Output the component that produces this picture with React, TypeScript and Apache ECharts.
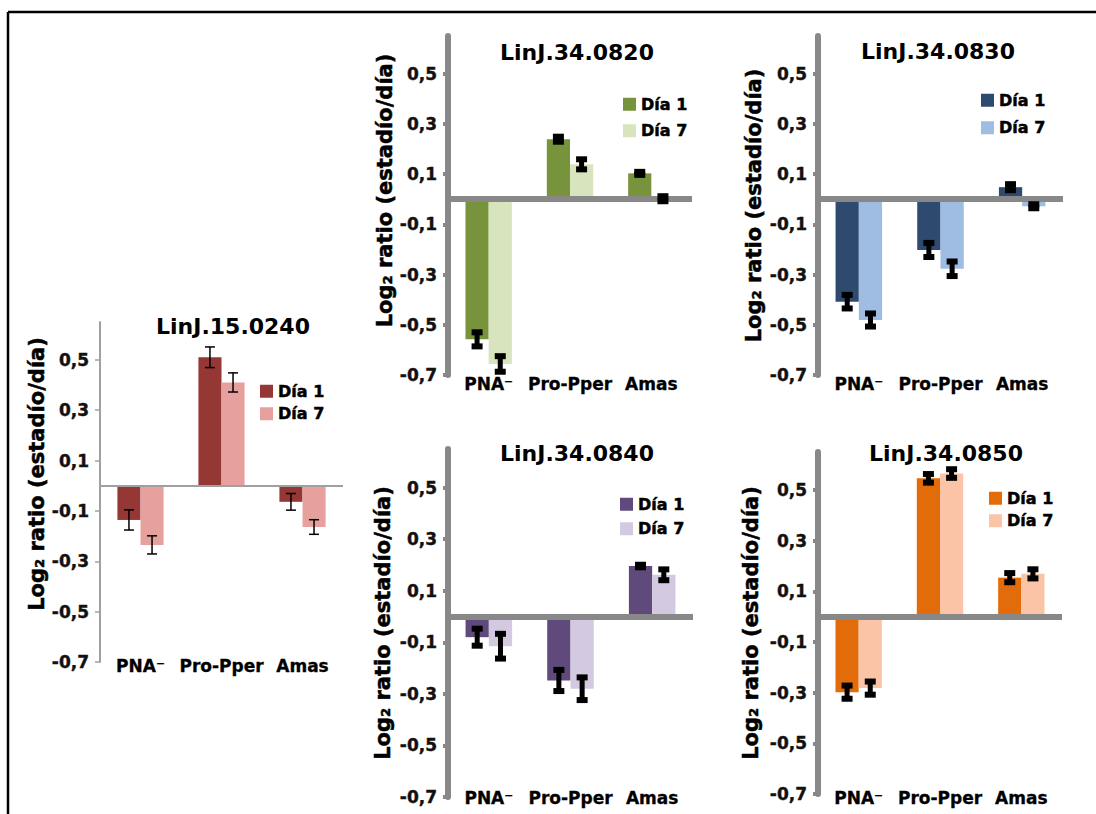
import React, { useEffect, useRef } from 'react';
import * as echarts from 'echarts';

const categories = ['PNA⁻', 'Pro-Pper', 'Amas'];
const tickValues = [-0.7, -0.5, -0.3, -0.1, 0.1, 0.3, 0.5];
const seriesNames = ['Día 1', 'Día 7'];
const titles = ['LinJ.15.0240', 'LinJ.34.0820', 'LinJ.34.0830', 'LinJ.34.0840', 'LinJ.34.0850'];
const yAxisName = 'Log₂ ratio (estadío/día)';

const p1Dia1 = [-0.136, 0.51, -0.064];
const p1Dia7 = [-0.235, 0.41, -0.164];
const p1Err1 = [0.04, 0.041, 0.033];
const p1Err7 = [0.036, 0.038, 0.029];

const p2Dia1 = [-0.558, 0.239, 0.103];
const p2Dia7 = [-0.656, 0.139, 0.002];
const p2Err1 = [0.028, 0.01, 0.006];
const p2Err7 = [0.031, 0.02, 0.01];

const p3Dia1 = [-0.408, -0.202, 0.048];
const p3Dia7 = [-0.481, -0.277, -0.028];
const p3Err1 = [0.027, 0.028, 0.012];
const p3Err7 = [0.026, 0.029, 0.008];

const p4Dia1 = [-0.08, -0.248, 0.196];
const p4Dia7 = [-0.115, -0.28, 0.162];
const p4Err1 = [0.033, 0.041, 0.005];
const p4Err7 = [0.048, 0.044, 0.021];

const p5Dia1 = [-0.298, 0.546, 0.154];
const p5Dia7 = [-0.282, 0.565, 0.169];
const p5Err1 = [0.026, 0.017, 0.018];
const p5Err7 = [0.026, 0.017, 0.018];

const FONT = "'DejaVu Sans', Verdana, sans-serif";
const CAT_GAP = 0.43;
const HEAVY = { textBorderColor: '#000', textBorderWidth: 0.5 };

const panels = [
  { d1: p1Dia1, d7: p1Dia7, e1: p1Err1, e7: p1Err7, colors: ['#953735', '#E6A19F'],
    grid: { left: 100, top: 322, width: 243, height: 340 }, thick: false, titlePos: [233, 326],
    legend: [260, 383, 6], labelMargin: -5, nameGap: 53, namePad: 36 },
  { d1: p2Dia1, d7: p2Dia7, e1: p2Err1, e7: p2Err7, colors: ['#77933C', '#D7E4BD'],
    grid: { left: 448, top: 36, width: 244, height: 339 }, thick: true, titlePos: [577, 52],
    legend: [623, 96, 10], labelMargin: 0, nameGap: 52, namePad: 30 },
  { d1: p3Dia1, d7: p3Dia7, e1: p3Err1, e7: p3Err7, colors: ['#2E4A6F', '#9FBCE3'],
    grid: { left: 818, top: 36, width: 245, height: 339 }, thick: true, titlePos: [938, 51],
    legend: [981, 92, 11], labelMargin: 0, nameGap: 54, namePad: 0 },
  { d1: p4Dia1, d7: p4Dia7, e1: p4Err1, e7: p4Err7, colors: ['#604A7B', '#D3CAE2'],
    grid: { left: 448, top: 449, width: 245, height: 348 }, thick: true, titlePos: [577, 453],
    legend: [620, 496, 8], labelMargin: -8, nameGap: 55, namePad: 0 },
  { d1: p5Dia1, d7: p5Dia7, e1: p5Err1, e7: p5Err7, colors: ['#E36C0A', '#FBC4A6'],
    grid: { left: 818, top: 452, width: 244, height: 342 }, thick: true, titlePos: [946, 453],
    legend: [989, 490, 6], labelMargin: -5, nameGap: 57, namePad: 0 },
];

function errRender(sign: number, thick: boolean) {
  return (params: any, api: any) => {
    const idx = api.value(0);
    const v = api.value(1);
    const e = api.value(2);
    const band = api.size([1, 0])[0];
    const bw = (band * (1 - CAT_GAP)) / 2;
    const base = api.coord([idx, v]);
    const x = base[0] + (sign * bw) / 2;
    const yHi = api.coord([idx, v + e])[1];
    const yLo = api.coord([idx, v - e])[1];
    if (thick) {
      return {
        type: 'group',
        children: [
          { type: 'rect', shape: { x: x - 2.5, y: yHi, width: 5, height: yLo - yHi }, style: { fill: '#000' } },
          { type: 'rect', shape: { x: x - 5.5, y: yHi - 3, width: 11, height: 6 }, style: { fill: '#000' } },
          { type: 'rect', shape: { x: x - 5.5, y: yLo - 3, width: 11, height: 6 }, style: { fill: '#000' } },
        ],
      };
    }
    return {
      type: 'group',
      children: [
        { type: 'line', shape: { x1: x, y1: yHi, x2: x, y2: yLo }, style: { stroke: '#000', lineWidth: 1.5 } },
        { type: 'line', shape: { x1: x - 5, y1: yHi, x2: x + 5, y2: yHi }, style: { stroke: '#000', lineWidth: 1.5 } },
        { type: 'line', shape: { x1: x - 5, y1: yLo, x2: x + 5, y2: yLo }, style: { stroke: '#000', lineWidth: 1.5 } },
      ],
    };
  };
}

function buildOption() {
  const grid: any[] = [];
  const xAxis: any[] = [];
  const yAxis: any[] = [];
  const series: any[] = [];
  const legend: any[] = [];
  const graphic: any[] = [
    { type: 'line', shape: { x1: 8, y1: 12, x2: 1096, y2: 12 }, style: { stroke: '#000', lineWidth: 2.5 } },
    { type: 'line', shape: { x1: 8, y1: 12, x2: 8, y2: 814 }, style: { stroke: '#000', lineWidth: 2.5 } },
  ];

  panels.forEach((p, i) => {
    const axisColor = p.thick ? '#888888' : '#A0A0A0';
    const axisW = p.thick ? 6 : 2;
    grid.push({ ...p.grid, containLabel: false });
    xAxis.push({
      type: 'category',
      gridIndex: i,
      data: categories,
      axisLine: { show: false, onZero: false },
      axisTick: { show: false },
      axisLabel: { fontSize: 17, fontWeight: 'bold', color: '#000', fontFamily: FONT, margin: p.labelMargin, interval: 0, textBorderColor: '#000', textBorderWidth: 0.3 },
      splitLine: { show: false },
    });
    yAxis.push({
      type: 'value',
      gridIndex: i,
      min: -0.7,
      max: 0.65,
      axisLine: { show: true, lineStyle: { color: axisColor, width: axisW } },
      axisTick: { show: true, customValues: tickValues, length: 5, lineStyle: { color: axisColor, width: p.thick ? 4 : 1.5 } },
      axisLabel: {
        customValues: tickValues,
        formatter: (v: number) => v.toFixed(1).replace('.', ','),
        fontSize: 17,
        fontWeight: 'bold',
        color: '#111',
        fontFamily: FONT,
        margin: 11,
        textBorderColor: '#111',
        textBorderWidth: 0.4,
      },
      splitLine: { show: false },
      name: yAxisName,
      nameLocation: 'middle',
      nameRotate: 90,
      nameGap: p.nameGap,
      nameTextStyle: { fontSize: 21, fontWeight: 'bold', color: '#000', fontFamily: FONT, padding: [0, 0, 0, p.namePad], ...HEAVY },
    });
    series.push({
      type: 'bar',
      name: seriesNames[0],
      xAxisIndex: i,
      yAxisIndex: i,
      data: p.d1,
      barGap: '0%',
      barCategoryGap: CAT_GAP * 100 + '%',
      itemStyle: { color: p.colors[0] },
      z: 2,
      markLine: {
        silent: true,
        symbol: ['none', 'none'],
        label: { show: false },
        lineStyle: { color: axisColor, width: p.thick ? 6 : 2, type: 'solid' },
        emphasis: { disabled: true },
        data: [{ yAxis: 0 }],
      },
    });
    series.push({
      type: 'bar',
      name: seriesNames[1],
      xAxisIndex: i,
      yAxisIndex: i,
      data: p.d7,
      barGap: '0%',
      barCategoryGap: CAT_GAP * 100 + '%',
      itemStyle: { color: p.colors[1] },
      z: 2,
    });
    series.push({
      type: 'custom',
      name: 'err1-' + i,
      xAxisIndex: i,
      yAxisIndex: i,
      renderItem: errRender(-1, p.thick),
      encode: { x: 0, y: 1 },
      data: p.d1.map((v, k) => [k, v, p.e1[k]]),
      z: 5,
      silent: true,
    });
    series.push({
      type: 'custom',
      name: 'err7-' + i,
      xAxisIndex: i,
      yAxisIndex: i,
      renderItem: errRender(1, p.thick),
      encode: { x: 0, y: 1 },
      data: p.d7.map((v, k) => [k, v, p.e7[k]]),
      z: 5,
      silent: true,
    });
    legend.push({
      orient: 'vertical',
      left: p.legend[0],
      top: p.legend[1],
      itemWidth: 13,
      itemHeight: 13,
      itemGap: p.legend[2],
      padding: 0,
      icon: 'rect',
      selectedMode: false,
      textStyle: { fontSize: 16, fontWeight: 'bold', color: '#000', fontFamily: FONT, ...HEAVY },
      data: [
        { name: seriesNames[0], itemStyle: { color: p.colors[0] } },
        { name: seriesNames[1], itemStyle: { color: p.colors[1] } },
      ],
    });
    graphic.push({
      type: 'text',
      x: p.titlePos[0],
      y: p.titlePos[1],
      style: {
        text: titles[i],
        fontSize: 22,
        fontWeight: 'bold',
        fill: '#000',
        fontFamily: FONT,
        align: 'center',
        verticalAlign: 'middle',
      },
    });
  });

  return {
    animation: false,
    backgroundColor: '#fff',
    textStyle: { fontFamily: FONT },
    grid,
    xAxis,
    yAxis,
    series,
    legend,
    graphic,
  };
}

export default function App() {
  const ref = useRef<HTMLDivElement>(null);
  useEffect(() => {
    document.body.style.margin = '0';
    if (!ref.current) return;
    const chart = echarts.init(ref.current, undefined, { renderer: 'svg' });
    chart.setOption(buildOption() as any);
    return () => chart.dispose();
  }, []);
  return <div ref={ref} style={{ width: 1096, height: 814 }} />;
}
